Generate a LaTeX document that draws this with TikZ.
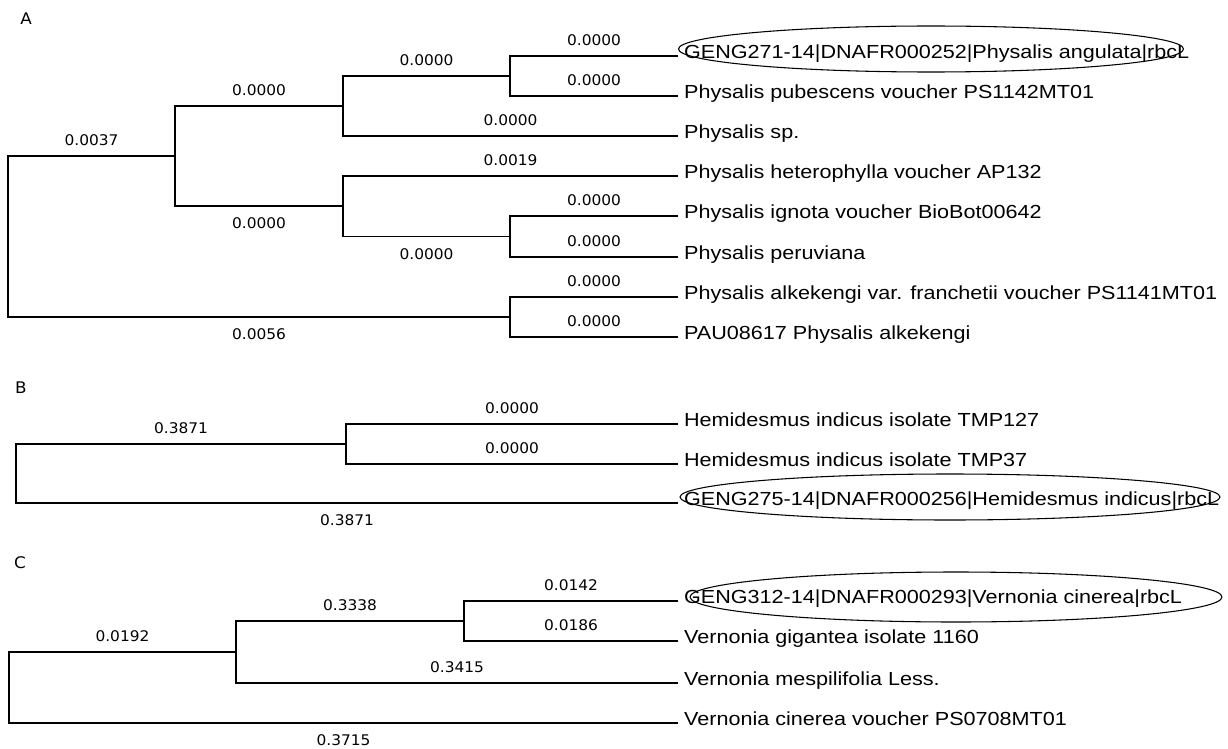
\documentclass[tikz,border=0pt]{standalone}
\usepackage{fontspec}
\newfontfamily\taxfont[FakeStretch=1.14]{Liberation Sans}
\newfontfamily\lenfont[FakeStretch=1.05]{DejaVu Sans}
\usetikzlibrary{positioning, shapes.geometric}

\begin{document}
\begin{tikzpicture}[x=0.75pt, y=-0.75pt, line width=1.2pt,
    taxon/.style={font={\taxfont\fontsize{14.2pt}{17pt}\selectfont},
                  inner sep=0pt, text height=0.72em, text depth=0.40em},
    blen/.style={font={\lenfont\fontsize{11pt}{13pt}\selectfont}, inner sep=0pt},
    lenup/.style={blen, yshift=11.6pt},
    lendn/.style={blen, yshift=-13.1pt},
    panel/.style={font={\lenfont\fontsize{12pt}{14pt}\selectfont}, inner sep=0pt},
    query/.style={ellipse, draw, line width=0.8pt, inner sep=0pt}]

    \fill[white] (0,0) rectangle (1228,749);
    \useasboundingbox (0,0) rectangle (1228,749);

    % --- (A) Physalis
    \node[panel] (pa) at (26,19) {A};
    \node[query, minimum width=378.75pt, minimum height=34.5pt] (qa) at (931,49) {};
    \coordinate (a1t) at (678,56);
    \coordinate (a2t) at (678,96);
    \coordinate (a3t) at (678,136);
    \coordinate (a4t) at (678,176);
    \coordinate (a5t) at (678,216);
    \coordinate (a6t) at (678,257);
    \coordinate (a7t) at (678,297);
    \coordinate (a8t) at (678,337);
    \node[taxon, right=4pt of a1t] (a1) {GENG271-14|DNAFR000252|Physalis angulata|rbcL};
    \node[taxon, right=4pt of a2t] (a2) {Physalis pubescens voucher PS1142MT01};
    \node[taxon, right=4pt of a3t] (a3) {Physalis sp.};
    \node[taxon, right=4pt of a4t] (a4) {Physalis heterophylla voucher AP132};
    \node[taxon, right=4pt of a5t] (a5) {Physalis ignota voucher BioBot00642};
    \node[taxon, right=4pt of a6t] (a6) {Physalis peruviana};
    \node[taxon, right=4pt of a7t] (a7) {Physalis alkekengi var. franchetii voucher PS1141MT01};
    \node[taxon, right=4pt of a8t] (a8) {PAU08617 Physalis alkekengi};
    \coordinate (an3) at (510,76);
    \coordinate (an2) at (343,106);
    \coordinate (an5) at (510,236.5);
    \coordinate (an4) at (343,206);
    \coordinate (an1) at (175,156);
    \coordinate (an6) at (510,317);
    \coordinate (ar)  at (8,236.5);
    \draw (a1t) -| node[lenup, pos=.25] {0.0000} (an3) |- node[lenup, pos=.75] {0.0000} (a2t);
    \draw (an3) -| node[lenup, pos=.25] {0.0000} (an2) |- node[lenup, pos=.75] {0.0000} (a3t);
    \draw (a5t) -| node[lenup, pos=.25] {0.0000} (an5) |- node[lenup, pos=.75] {0.0000} (a6t);
    \draw (a4t) -| node[lenup, pos=.25] {0.0019} (an4) |- node[lendn, pos=.75] {0.0000} (an5);
    \draw (an2) -| node[lenup, pos=.25] {0.0000} (an1) |- node[lendn, pos=.75] {0.0000} (an4);
    \draw (a7t) -| node[lenup, pos=.25] {0.0000} (an6) |- node[lenup, pos=.75] {0.0000} (a8t);
    \draw (an1) -| node[lenup, pos=.25] {0.0037} (ar) |- node[lendn, pos=.75] {0.0056} (an6);

    % --- (B) Hemidesmus
    \node[panel] (pb) at (21,388) {B};
    \node[query, minimum width=405pt, minimum height=34.5pt] (qb) at (950,497) {};
    \coordinate (b1t) at (678,424);
    \coordinate (b2t) at (678,464);
    \coordinate (b3t) at (678,503);
    \node[taxon, right=4pt of b1t] (b1) {Hemidesmus indicus isolate TMP127};
    \node[taxon, right=4pt of b2t] (b2) {Hemidesmus indicus isolate TMP37};
    \node[taxon, right=4pt of b3t] (b3) {GENG275-14|DNAFR000256|Hemidesmus indicus|rbcL};
    \coordinate (bn1) at (346,444);
    \coordinate (br)  at (16,473.5);
    \draw (b1t) -| node[lenup, pos=.25] {0.0000} (bn1) |- node[lenup, pos=.75] {0.0000} (b2t);
    \draw (bn1) -| node[lenup, pos=.25] {0.3871} (br) |- node[lendn, pos=.75] {0.3871} (b3t);

    % --- (C) Vernonia
    \node[panel] (pc) at (20,563) {C};
    \node[query, minimum width=399pt, minimum height=37.5pt] (qc) at (956,597) {};
    \coordinate (c1t) at (678,601);
    \coordinate (c2t) at (678,641);
    \coordinate (c3t) at (678,683);
    \coordinate (c4t) at (678,723);
    \node[taxon, right=4pt of c1t] (c1) {GENG312-14|DNAFR000293|Vernonia cinerea|rbcL};
    \node[taxon, right=4pt of c2t] (c2) {Vernonia gigantea isolate 1160};
    \node[taxon, right=4pt of c3t] (c3) {Vernonia mespilifolia Less.};
    \node[taxon, right=4pt of c4t] (c4) {Vernonia cinerea voucher PS0708MT01};
    \coordinate (cn2) at (464,621);
    \coordinate (cn1) at (236,652);
    \coordinate (cr)  at (9,687.5);
    \draw (c1t) -| node[lenup, pos=.25] {0.0142} (cn2) |- node[lenup, pos=.75] {0.0186} (c2t);
    \draw (cn2) -| node[lenup, pos=.25] {0.3338} (cn1) |- node[lenup, pos=.75] {0.3415} (c3t);
    \draw (cn1) -| node[lenup, pos=.25] {0.0192} (cr) |- node[lendn, pos=.75] {0.3715} (c4t);
\end{tikzpicture}
\end{document}
